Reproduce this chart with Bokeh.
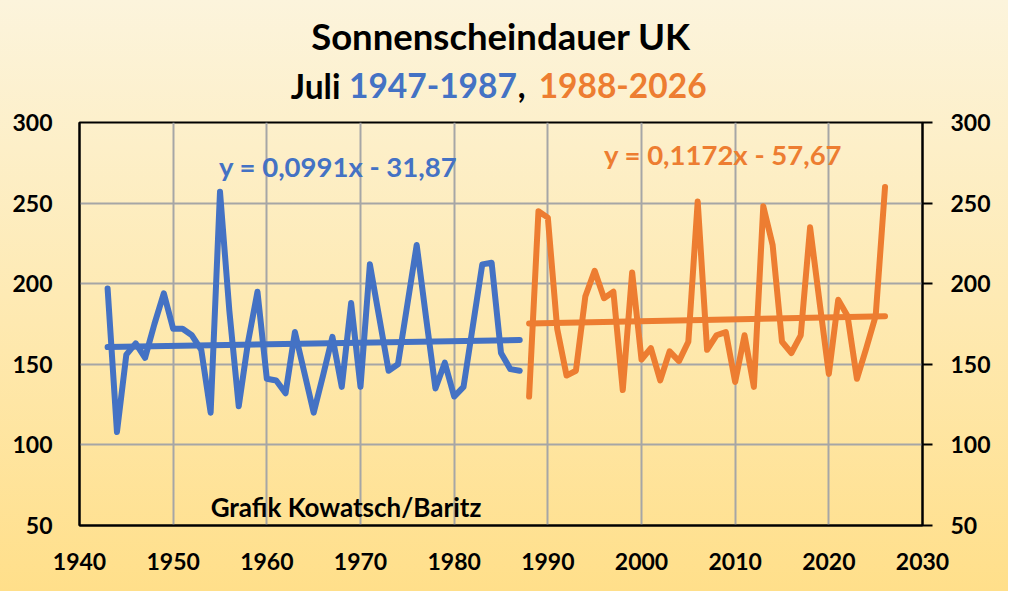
from bokeh.plotting import figure
from bokeh.layouts import column
from bokeh.models import LinearAxis, Range1d, Label, FixedTicker
from bokeh.embed import file_html
from bokeh.resources import INLINE

# ---------------- data ----------------
blue_years = list(range(1943, 1988))
blue_values = [197, 108, 156, 163, 154, 175, 194, 172, 172, 168, 159, 120, 257, 183, 124,
               164, 195, 141, 140, 132, 170, 145, 120, 143, 167, 136, 188, 136, 212, 179,
               146, 150, 187, 224, 179, 135, 151, 130, 136, 174, 212, 213, 157, 147, 146]
orange_years = list(range(1988, 2027))
orange_values = [130, 245, 241, 172, 143, 146, 192, 208, 191, 195, 134, 207, 153, 160, 140,
                 158, 152, 164, 251, 159, 168, 170, 139, 168, 136, 248, 224, 164, 157, 168,
                 235, 189, 144, 190, 180, 141, 160, 180, 260]
blue_slope, blue_intercept = 0.0991, -31.87
orange_slope, orange_intercept = 0.1172, -57.67
x_ticks = [1940, 1950, 1960, 1970, 1980, 1990, 2000, 2010, 2020, 2030]
y_ticks = [50, 100, 150, 200, 250, 300]
title_line1 = "Sonnenscheindauer UK"
title_parts = ["Juli", "1947-1987", ",", "1988-2026"]
blue_eq = "y = 0,0991x - 31,87"
orange_eq = "y = 0,1172x - 57,67"
credit = "Grafik Kowatsch/Baritz"

BLUE = "#4472C4"
ORANGE = "#ED7D31"
FONT = "Lato"
W = 1008
TITLE_H = 108

# ---------------- title strip ----------------
t = figure(width=W, height=TITLE_H, output_backend="svg", toolbar_location=None,
           x_range=Range1d(0, W), y_range=Range1d(0, TITLE_H),
           min_border_left=0, min_border_right=0, min_border_top=0, min_border_bottom=0)
t.axis.visible = False
t.grid.visible = False
t.outline_line_color = None
t.border_fill_alpha = 0
t.background_fill_alpha = 0

def tlab(x, y, text, color, align, size):
    t.add_layout(Label(x=x, y=y, text=text, text_color=color, text_font=FONT,
                       text_font_style="bold", text_font_size=size,
                       text_align=align, text_baseline="middle"))

tlab(504, 73, title_line1, "black", "center", "36.5px")
tlab(312, 23, title_parts[0], "black", "right", "33.5px")
tlab(523, 23, title_parts[1], BLUE, "right", "33.5px")
tlab(524, 23, title_parts[2], "black", "left", "33.5px")
tlab(549, 23, title_parts[3], ORANGE, "left", "33.5px")

# ---------------- main chart ----------------
p = figure(width=W, height=591 - TITLE_H, output_backend="svg", toolbar_location=None,
           x_range=Range1d(1940, 2030), y_range=Range1d(50, 300),
           min_border_left=79, min_border_right=86, min_border_top=14, min_border_bottom=66)
p.border_fill_alpha = 0
p.background_fill_alpha = 0
p.outline_line_color = "black"
p.outline_line_width = 2

p.xaxis.ticker = FixedTicker(ticks=x_ticks)
p.yaxis.ticker = FixedTicker(ticks=y_ticks)
for ax in (p.xaxis[0], p.yaxis[0]):
    ax.axis_line_color = "black"
    ax.axis_line_width = 2
    ax.major_tick_out = 0
    ax.major_tick_in = 0
    ax.minor_tick_out = 0
    ax.minor_tick_in = 0
    ax.major_label_text_font = FONT
    ax.major_label_text_font_style = "bold"
    ax.major_label_text_font_size = "23px"
    ax.major_label_text_color = "black"
p.xaxis.major_label_standoff = 27
p.yaxis.major_label_standoff = 27

right = LinearAxis(ticker=FixedTicker(ticks=y_ticks))
right.axis_line_color = "black"
right.axis_line_width = 2
right.major_tick_out = 10
right.major_tick_in = 0
right.major_tick_line_color = "black"
right.major_tick_line_width = 2
right.minor_tick_out = 0
right.minor_tick_in = 0
right.major_label_standoff = 18
right.major_label_text_font = FONT
right.major_label_text_font_style = "bold"
right.major_label_text_font_size = "23px"
right.major_label_text_color = "black"
p.add_layout(right, "right")

p.xgrid.ticker = FixedTicker(ticks=x_ticks)
p.ygrid.ticker = FixedTicker(ticks=y_ticks)
for g in (p.xgrid[0], p.ygrid[0]):
    g.grid_line_color = "#A6A6A6"
    g.grid_line_width = 2

p.line(blue_years, blue_values, line_color=BLUE, line_width=6, line_join="round", line_cap="round")
p.line(orange_years, orange_values, line_color=ORANGE, line_width=6, line_join="round", line_cap="round")

bx = [blue_years[0], blue_years[-1]]
ox = [orange_years[0], orange_years[-1]]
p.line(bx, [blue_slope * x + blue_intercept for x in bx], line_color=BLUE, line_width=6, line_cap="round")
p.line(ox, [orange_slope * x + orange_intercept for x in ox], line_color=ORANGE, line_width=6, line_cap="round")

def lab(x, y, text, color, size):
    p.add_layout(Label(x=x, y=y, text=text, text_color=color, text_font=FONT,
                       text_font_style="bold", text_font_size=size,
                       text_align="left", text_baseline="middle"))

lab(1954.9, 272.8, blue_eq, BLUE, "27.5px")
lab(1996.0, 280.1, orange_eq, ORANGE, "27.5px")
lab(1954.0, 61.5, credit, "black", "26px")

layout = column(t, p, spacing=0)
layout.styles = {"background": "linear-gradient(to bottom, #FCF4DC 0%, #FEEAB4 50%, #FFDF8A 100%)"}

open("out.html", "w").write(file_html(layout, INLINE))
